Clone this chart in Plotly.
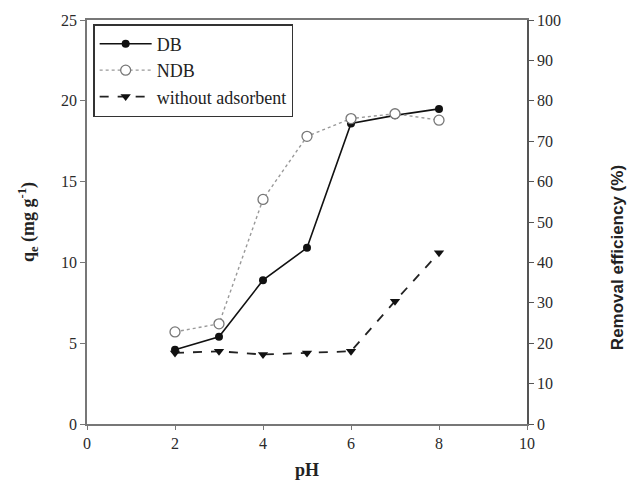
import plotly.graph_objects as go

ph = [2, 3, 4, 5, 6, 7, 8]
db = [4.6, 5.4, 8.9, 10.9, 18.6, 19.1, 19.5]
ndb = [5.7, 6.2, 13.9, 17.8, 18.9, 19.2, 18.8]
without = [4.4, 4.5, 4.3, 4.4, 4.5, 7.6, 10.6]

x_ticks = [0, 2, 4, 6, 8, 10]
y_ticks = [0, 5, 10, 15, 20, 25]
y2_ticks = list(range(0, 101, 10))

fig = go.Figure()
fig.add_trace(go.Scatter(x=ph, y=db, name="DB", mode="lines+markers",
                         line=dict(color="#111", width=1.6),
                         marker=dict(symbol="circle", size=8, color="#111")))
fig.add_trace(go.Scatter(x=ph, y=ndb, name="NDB", mode="lines+markers",
                         line=dict(color="#999", width=1.4, dash="dot"),
                         marker=dict(symbol="circle", size=10, color="white",
                                     line=dict(width=1.3, color="#777"))))
fig.add_trace(go.Scatter(x=ph, y=without, name="without adsorbent", mode="lines+markers",
                         line=dict(color="#222", width=1.8, dash="dash"),
                         marker=dict(symbol="triangle-down", size=9, color="#111")))
fig.add_trace(go.Scatter(x=[0], y=[0], yaxis="y2", showlegend=False,
                         mode="markers", marker=dict(opacity=0), hoverinfo="skip"))

font_serif = "Liberation Serif, Times New Roman, serif"
fig.update_layout(
    width=636, height=482,
    margin=dict(l=87, r=109, t=20, b=58),
    plot_bgcolor="white", paper_bgcolor="white",
    font=dict(family=font_serif, size=16, color="#2a2a2a"),
    showlegend=True,
    legend=dict(x=0.014, y=0.99, xanchor="left", yanchor="top",
                bordercolor="#333", borderwidth=1.5, bgcolor="white",
                font=dict(size=18, color="#222"), tracegroupgap=0,
                itemwidth=52),
    xaxis=dict(range=[0, 10], tickvals=x_ticks, showline=True, linecolor="#777",
               linewidth=1.5, mirror=True, ticks="outside", ticklen=4,
               tickcolor="#777", showgrid=False, zeroline=False, automargin=False,
               title=dict(text="<b>pH</b>", font=dict(size=18, color="#222"), standoff=12)),
    yaxis=dict(range=[0, 25], tickvals=y_ticks, showline=True, linecolor="#777",
               linewidth=1.5, ticks="outside", ticklen=5, tickcolor="#777",
               showgrid=False, zeroline=False, automargin=False,
               title=dict(text="<b>q<sub>e</sub> (mg g<sup>-1</sup>)</b>",
                          font=dict(size=18, color="#222"), standoff=22)),
    yaxis2=dict(range=[0, 100], tickvals=y2_ticks, overlaying="y", side="right",
                showline=True, linecolor="#555", linewidth=1.5, ticks="outside",
                ticklen=5, tickcolor="#555", showgrid=False, zeroline=False,
                automargin=False),
    annotations=[dict(text="<b>Removal efficiency (%)</b>", textangle=-90,
                      xref="paper", yref="paper", x=1.2045, y=0.413,
                      xanchor="center", yanchor="middle", showarrow=False,
                      font=dict(family="Liberation Sans, Arial, sans-serif",
                                size=17, color="#222"))],
)

fig.write_html("out.html")
